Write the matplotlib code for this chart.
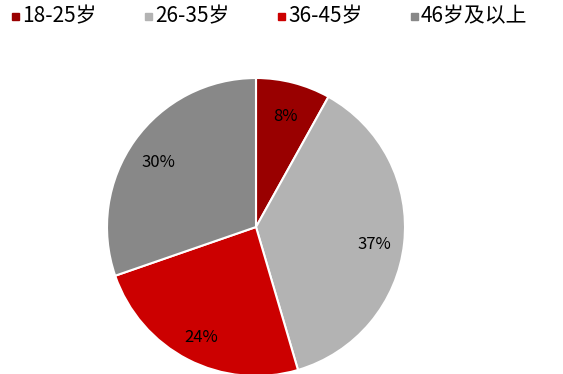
import matplotlib.pyplot as plt
from matplotlib.patches import Rectangle

plt.rcParams['font.family'] = ['Noto Sans CJK SC', 'DejaVu Sans']

labels = ["18-25岁", "26-35岁", "36-45岁", "46岁及以上"]
shares = [8, 37, 24, 30]
colors = ["#990000", "#b3b3b3", "#cc0000", "#888888"]

W, H = 563, 374
fig = plt.figure(figsize=(W / 100, H / 100), dpi=100)

# pie axes: square, centred at (256, 227) px, radius 149 px
cx, cy, r = 256, 227, 149
ax = fig.add_axes([(cx - r) / W, (H - cy - r) / H, 2 * r / W, 2 * r / H])
wedges, texts, autotexts = ax.pie(
    shares, colors=colors, startangle=90, counterclock=False,
    autopct=lambda p: "{:.0f}%".format(p * sum(shares) / 100),
    pctdistance=0.8,
    wedgeprops=dict(edgecolor="white", linewidth=1.5),
    textprops=dict(fontsize=12, color="black"))
ax.set_xlim(-1, 1)
ax.set_ylim(-1, 1)
ax.set_aspect("equal")
for w in wedges:
    w.set_clip_on(False)
for t in autotexts:
    x, y = t.get_position()
    t.set_position((x, y - 0.03))

# legend row across the top
for i, (lab, col) in enumerate(zip(labels, colors)):
    x0 = 12 + 133 * i
    fig.add_artist(Rectangle((x0 / W, 1 - 20 / H), 7 / W, 7 / H,
                             transform=fig.transFigure, color=col))
    fig.text((x0 + 10) / W, 1 - 16 / H, lab, fontsize=15, va="center", ha="left")

fig.savefig("out.png", dpi=100)
